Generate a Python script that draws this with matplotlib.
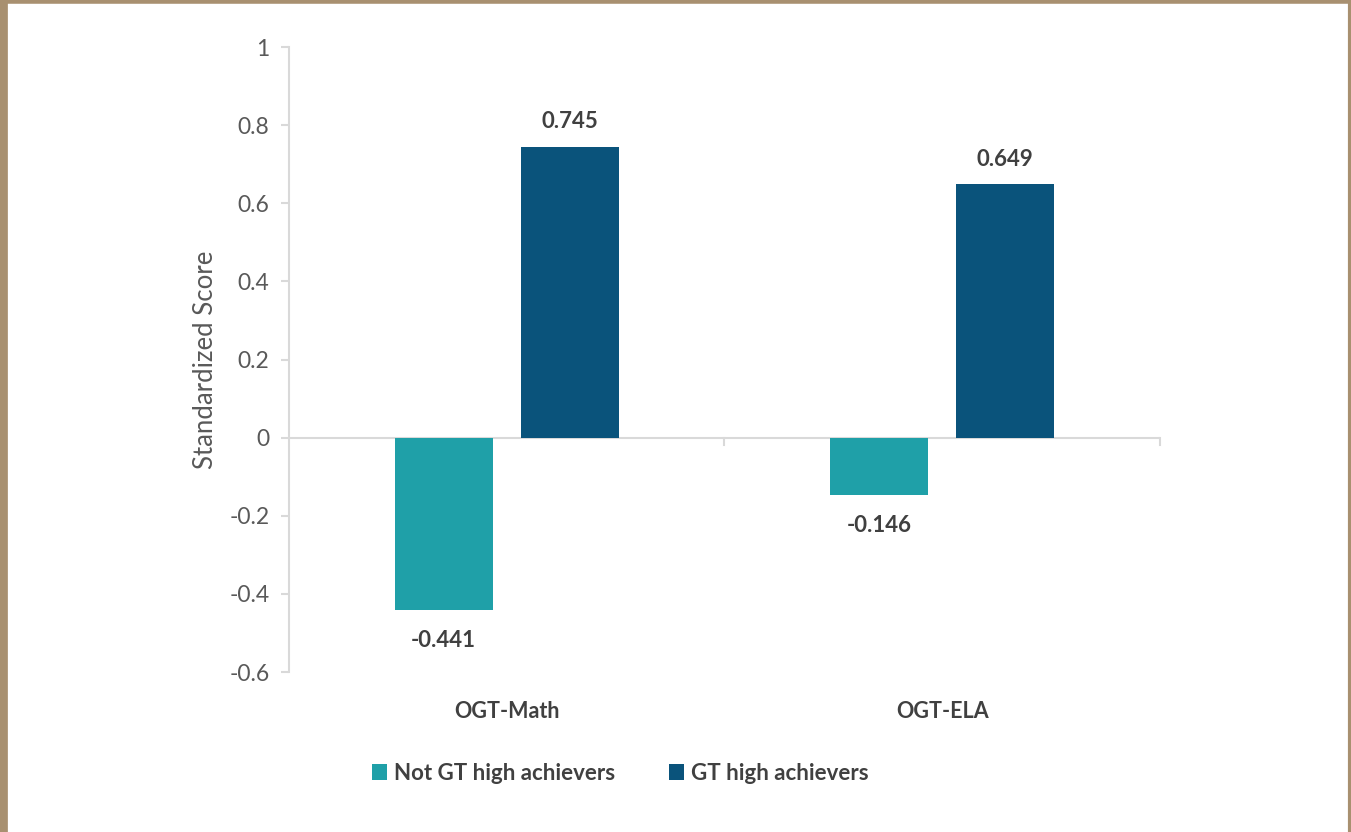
import numpy as np
import matplotlib.pyplot as plt
from matplotlib.lines import Line2D

categories = ["OGT-Math", "OGT-ELA"]
not_gt = [-0.441, -0.146]
gt = [0.745, 0.649]
series_names = ["Not GT high achievers", "GT high achievers"]
y_ticks = [-0.6, -0.4, -0.2, 0, 0.2, 0.4, 0.6, 0.8, 1]

TEAL = "#1FA0A8"
NAVY = "#0A537B"
GRID = "#D9D9D9"
TXT = "#595959"
LBL = "#404040"

plt.rcParams["font.family"] = ["Lato", "DejaVu Sans"]

fig = plt.figure(figsize=(13.51, 8.32), dpi=100)
ax = fig.add_axes([0.2139, 0.1923, 0.6447, 0.7512])

x = np.arange(len(categories))
w = 0.225
off = 0.1447
b1 = ax.bar(x - off, not_gt, w, color=TEAL, label=series_names[0])
b2 = ax.bar(x + off, gt, w, color=NAVY, label=series_names[1])

for rect, v in zip(b1, not_gt):
    ax.annotate(f"{v:.3f}", (rect.get_x() + rect.get_width() / 2, v),
                xytext=(0, -22), textcoords="offset points", ha="center", va="center",
                fontsize=16, fontweight="bold", color=LBL)
for rect, v in zip(b2, gt):
    ax.annotate(f"{v:.3f}", (rect.get_x() + rect.get_width() / 2, v),
                xytext=(0, 18), textcoords="offset points", ha="center", va="center",
                fontsize=16, fontweight="bold", color=LBL)

ax.set_xlim(-0.5, len(categories) - 0.5)
ax.set_ylim(-0.6, 1)
ax.set_yticks(y_ticks)
ax.set_yticklabels([f"{t:g}" for t in y_ticks])
ax.tick_params(axis="y", colors=GRID, labelcolor=TXT, labelsize=16.5, length=6, width=1.5, pad=8)

# zero line with category boundary ticks
ax.axhline(0, color=GRID, lw=1.5, zorder=0)
for xb in [0.5, 1.5]:
    ax.plot([xb, xb], [0, -0.02], color=GRID, lw=1.5, clip_on=False)
ax.set_xticks([])
for i, c in enumerate(categories):
    ax.text(i, -0.7, c, ha="center", va="center", fontsize=15.5, fontweight="bold",
            color=LBL)

for s in ["top", "right", "bottom"]:
    ax.spines[s].set_visible(False)
ax.spines["left"].set_color(GRID)
ax.spines["left"].set_linewidth(1.5)

ax.set_ylabel("Standardized Score", fontsize=18.5, color=TXT, labelpad=8)

leg = fig.legend(loc="center", bbox_to_anchor=(0.459, 0.0705), ncol=2, frameon=False,
                 handlelength=0.7, handleheight=0.7, handletextpad=0.3,
                 columnspacing=2.4, prop={"weight": "bold", "size": 16})
for t in leg.get_texts():
    t.set_color(LBL)

# frame on left, top and right edges
BORDER = "#A89070"
fig.add_artist(Line2D([0.002, 0.002], [0, 1], transform=fig.transFigure, color=BORDER, lw=7))
fig.add_artist(Line2D([0, 1], [0.999, 0.999], transform=fig.transFigure, color=BORDER, lw=4))
fig.add_artist(Line2D([0.9995, 0.9995], [0, 1], transform=fig.transFigure, color=BORDER, lw=3))

fig.savefig("out.png", dpi=100)
